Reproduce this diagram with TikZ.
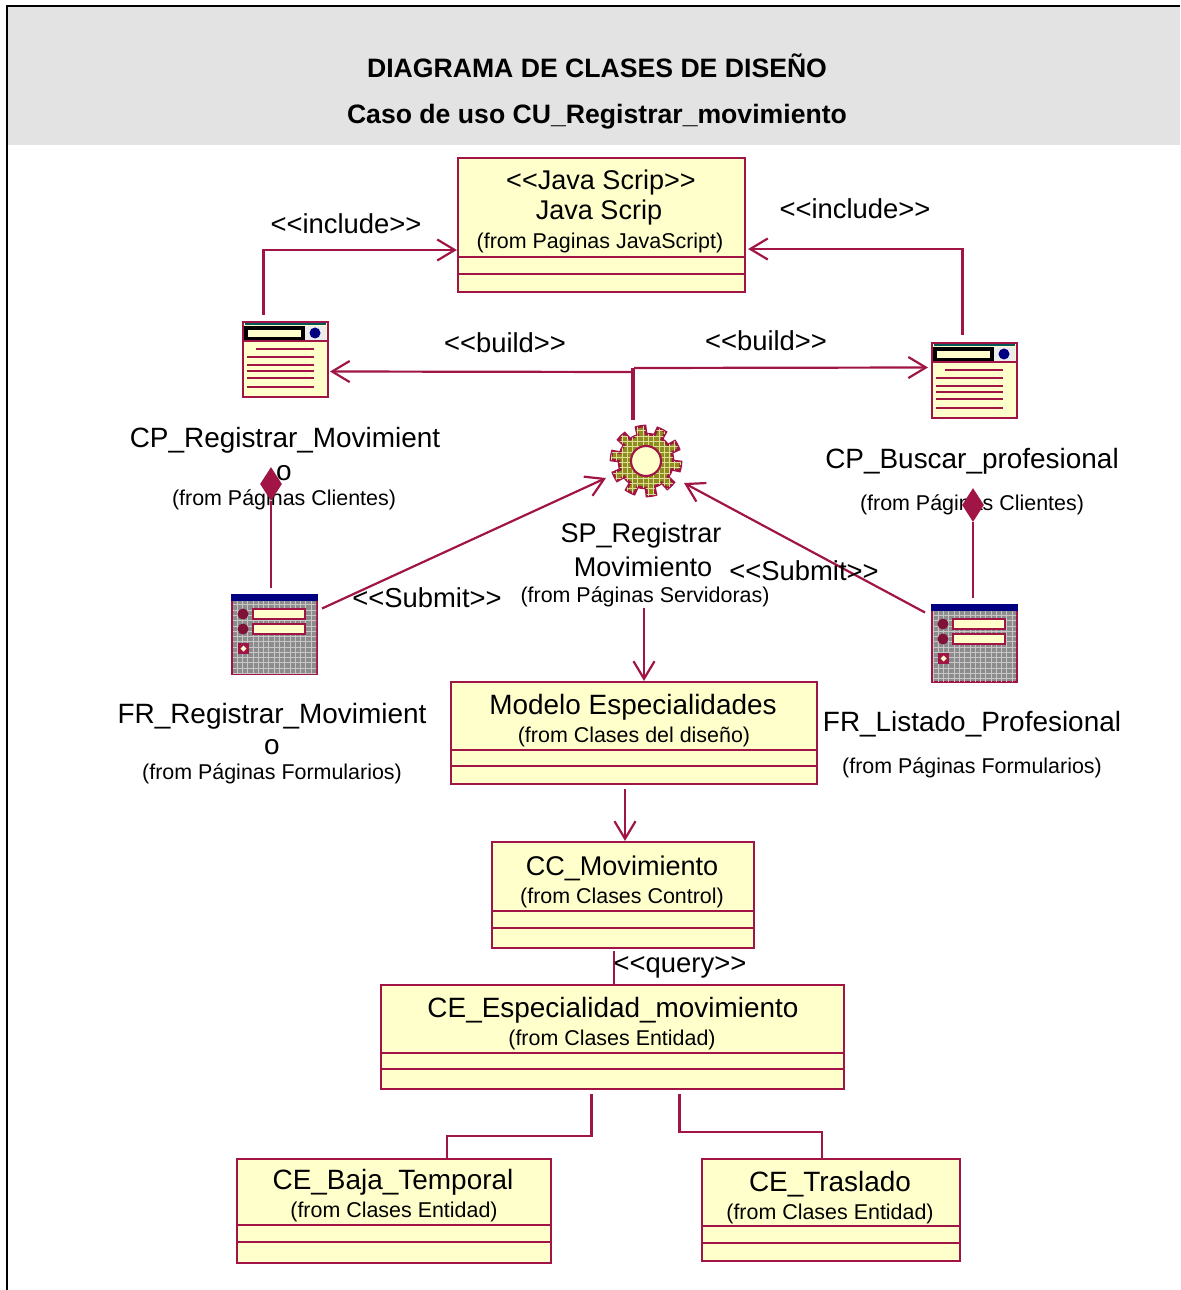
\documentclass[tikz,border=0pt]{standalone}
\usepackage{fontspec}
\setmainfont{Liberation Sans}
\usetikzlibrary{calc, arrows.meta, shapes.geometric, patterns}

\definecolor{umlred}{HTML}{A01545}
\definecolor{umlfill}{HTML}{FFFFCC}
\definecolor{headgray}{HTML}{E3E3E3}
\definecolor{gearolive}{HTML}{8E8E1E}
\definecolor{formgray}{HTML}{8C8C8C}

\tikzset{
    umlline/.style={draw=umlred, line width=1.25pt},
    dep/.style={umlline, -{Straight Barb[length=10pt,width=12pt]}},
    classbox/.style={draw=umlred, line width=1.25pt, fill=umlfill, inner sep=0pt},
    iconbox/.style={draw=umlred, line width=1.3pt, fill=umlfill, inner sep=0pt, outer sep=0pt, minimum width=85*0.02cm},
    compo/.style={diamond, fill=umlred, inner sep=0pt, minimum width=22*0.02cm, minimum height=34*0.02cm, aspect=0.65},
    titletxt/.style={font=\fontsize{15.15}{17}\selectfont\bfseries},
    nametxt/.style={font=\fontsize{15.9}{18}\selectfont, yshift=-0.04cm},
    nameb/.style={font=\fontsize{15.4}{18}\selectfont, yshift=-0.04cm},
    fromtxt/.style={font=\fontsize{12.2}{14}\selectfont, yshift=-0.04cm},
    steretxt/.style={font=\fontsize{15.6}{18}\selectfont},
}

\begin{document}
\begin{tikzpicture}[x=0.02cm, y=-0.02cm]
    \useasboundingbox (0,0) rectangle (1180,1290);

    % --- Sheet ---
    \fill[headgray] (8,7) rectangle (1180,145);
    \draw[line width=1.2pt] (7,1290) -- (7,6) -- (1180,6);
    \node[titletxt] (title) at (597,66) {DIAGRAMA DE CLASES DE DISEÑO};
    \node[titletxt] (subtitle) at (597,117) {Caso de uso CU\_Registrar\_movimiento};

    % --- Class boxes: name/left/top/right/bottom/line 1/line 2 ---
    \foreach \name/\xa/\ya/\xb/\yb/\ca/\cb in {
        java/458/158/745/292/257/274,
        modelo/451/682/817/784/750/766,
        ccmov/492/842/754/948/911/928,
        ceesp/381/985/844/1089/1053/1069,
        cebaja/237/1159/551/1263/1225/1242,
        cetras/702/1159/960/1261/1226/1243} {
        \node[classbox, minimum width={(\xb-\xa)*0.02cm}, minimum height={(\yb-\ya)*0.02cm}]
            (\name) at ({(\xa+\xb)/2},{(\ya+\yb)/2}) {};
        \draw[umlline] (\name.west |- 0,\ca) -- (\name.east |- 0,\ca);
        \draw[umlline] (\name.west |- 0,\cb) -- (\name.east |- 0,\cb);
    }

    % --- Page icons ---
    \foreach \name/\xa/\ya in {cpreg/243/322, cpbus/932/343} {
        \node[iconbox, minimum height=75*0.02cm, anchor=north west] (\name) at (\xa,\ya) {};
        \begin{scope}[shift={(\xa,\ya)}]
            \draw[teal!70!black, line width=1pt] (2,2) -- (83,2);
            \fill[white!85!gray] (2,4) rectangle (83,18);
            \draw[black, line width=2pt, fill=umlfill] (3,6) rectangle (60,17);
            \fill[blue!50!black] (72,11) circle (5.5);
            \draw[umlred, line width=1pt] (0,19) -- (85,19);
            \draw[umlred, line width=1.3pt] (13,27) -- (71,27);
            \foreach \yy in {35,43,49,56,65}
                \draw[umlred, line width=1.3pt] (4,\yy) -- (71,\yy);
        \end{scope}
    }

    % --- Form icons ---
    \foreach \name/\xa/\ya/\hh in {frreg/232/595/79, frlist/932/605/77} {
        \node[iconbox, fill=formgray, minimum height=\hh*0.02cm, anchor=north west] (\name) at (\xa,\ya) {};
        \begin{scope}[shift={(\xa,\ya)}]
            \fill[pattern=grid, pattern color=black!22] (1,1) rectangle (84,\hh-1);
            \fill[blue!50!black] (-1,-1) rectangle (86,6);
            \foreach \yy in {19,34} {
                \fill[umlred!80!black] (11,\yy) circle (5.5);
                \draw[umlred, line width=1.4pt, fill=umlfill] (21,\yy-5) rectangle (73,\yy+5);
            }
            \fill[umlred] (6,48) rectangle (17,59);
            \fill[umlfill] (11.5,50.5) -- (14.5,53.5) -- (11.5,56.5) -- (8.5,53.5) -- cycle;
        \end{scope}
    }

    % --- Gear ---
    \node[circle, minimum size=70*0.02cm, inner sep=0pt] (gear) at (646,461) {};
    \begin{scope}[shift={(gear.center)}]
        \draw[umlred, line width=1.5pt, fill=gearolive, postaction={pattern=grid, pattern color=umlfill!70!gearolive}]
            plot[samples=241, domain=0:360] (\x:{27+8*(sin(10*\x)>0)}) -- cycle;
        \draw[umlred, line width=1.2pt, fill=umlfill] (0,0) circle (15);
    \end{scope}

    % --- Connectors ---
    \draw[dep] ($(cpreg.north)+(-22,-7)$) |- ($(java.west)+(0,25)$);
    \draw[dep] ($(cpbus.north)+(-12,-8)$) |- ($(java.east)+(2,24)$);
    \draw[umlline, line width=2.2pt] ($(gear.center)+(-13,-41)$) -- ($(gear.center)+(-13,-93)$);
    \draw[dep] ($(gear.center)+(-13,-89)$) -- ($(cpreg.east)+(2,12)$);
    \draw[dep] ($(gear.center)+(-12,-93)$) -- ($(cpbus.west)+(-4,-13)$);
    \draw[dep] ($(frreg.east)+(5,-26)$) -- ($(gear.center)+(-40,17)$);
    \draw[dep] ($(frlist.west)+(-7,-31)$) -- ($(gear.center)+(38,22)$);
    \draw[dep] ($(gear.center)+(-2,147)$) -- (modelo.north -| 644,0);
    \draw[dep] ($(modelo.south)+(-9,4)$) -- (ccmov.north -| 625,0);
    \draw[umlline] ($(ccmov.south)+(-9,2)$) -- (ceesp.north -| 614,0);
    \draw[umlline] ($(ceesp.south)+(-21,4)$) |- ($(cebaja.north)+(53,-22)$) -- ($(cebaja.north)+(53,0)$);
    \draw[umlline] ($(ceesp.south)+(67,4)$) |- ($(cetras.north)+(-9,-26)$) -- ($(cetras.north)+(-9,0)$);

    % --- Labels ---
    \node[nameb] (jstereo) at (601,181) {<{}<Java Scrip>{}>};
    \node[nameb] (jname) at (599,211) {Java Scrip};
    \node[fromtxt] (jfrom) at (600,241) {(from Paginas JavaScript)};
    \node[steretxt] (inca) at (346,224) {<{}<include>{}>};
    \node[steretxt] (incb) at (855,209) {<{}<include>{}>};
    \node[steretxt] (bua) at (505,343) {<{}<build>{}>};
    \node[steretxt] (bub) at (766,341) {<{}<build>{}>};
    \node[steretxt] (suba) at (427,598) {<{}<Submit>{}>};
    \node[steretxt] (subb) at (804,571) {<{}<Submit>{}>};
    \node[steretxt] (quer) at (680,967) {<{}<query>{}>};
    \node[nametxt] (cpregA) at (285,438) {CP\_Registrar\_Movimient};
    \node[nametxt] (cpregB) at (284,471) {o};
    \node[fromtxt] (cpregC) at (284,498) {(from Páginas Clientes)};
    \node[nametxt] (cpbusA) at (972,459) {CP\_Buscar\_profesional};
    \node[fromtxt] (cpbusC) at (972,503) {(from Páginas Clientes)};
    \node[nameb] (gearA) at (641,534) {SP\_Registrar};
    \node[nameb] (gearB) at (643,565) {Movimiento};
    \node[fromtxt] (gearC) at (645,595) {(from Páginas Servidoras)};
    \node[nametxt] (frregA) at (272,714) {FR\_Registrar\_Movimient};
    \node[nametxt] (frregB) at (272,745) {o};
    \node[fromtxt] (frregC) at (272,772) {(from Páginas Formularios)};
    \node[nametxt] (frlistA) at (972,722) {FR\_Listado\_Profesional};
    \node[fromtxt] (frlistC) at (972,766) {(from Páginas Formularios)};
    \node[nametxt] (modA) at (633,705) {Modelo Especialidades};
    \node[fromtxt] (modC) at (634,735) {(from Clases del diseño)};
    \node[nameb] (ccA) at (622,866) {CC\_Movimiento};
    \node[fromtxt] (ccC) at (622,896) {(from Clases Control)};
    \node[nametxt] (ceA) at (613,1008) {CE\_Especialidad\_movimiento};
    \node[fromtxt] (ceC) at (612,1038) {(from Clases Entidad)};
    \node[nametxt] (bajaA) at (393,1180) {CE\_Baja\_Temporal};
    \node[fromtxt] (bajaC) at (394,1210) {(from Clases Entidad)};
    \node[nametxt] (trasA) at (830,1182) {CE\_Traslado};
    \node[fromtxt] (trasC) at (830,1212) {(from Clases Entidad)};

    % --- Composition diamonds, over the labels ---
    \node[compo] (dmreg) at (271,484) {};
    \node[compo] (dmbus) at (973,505) {};
    \draw[umlline] ($(frreg.north)+(-3.5,-7)$) -- (dmreg.south);
    \draw[umlline] ($(frlist.north)+(-1.5,-7)$) -- (dmbus.south);
\end{tikzpicture}
\end{document}
